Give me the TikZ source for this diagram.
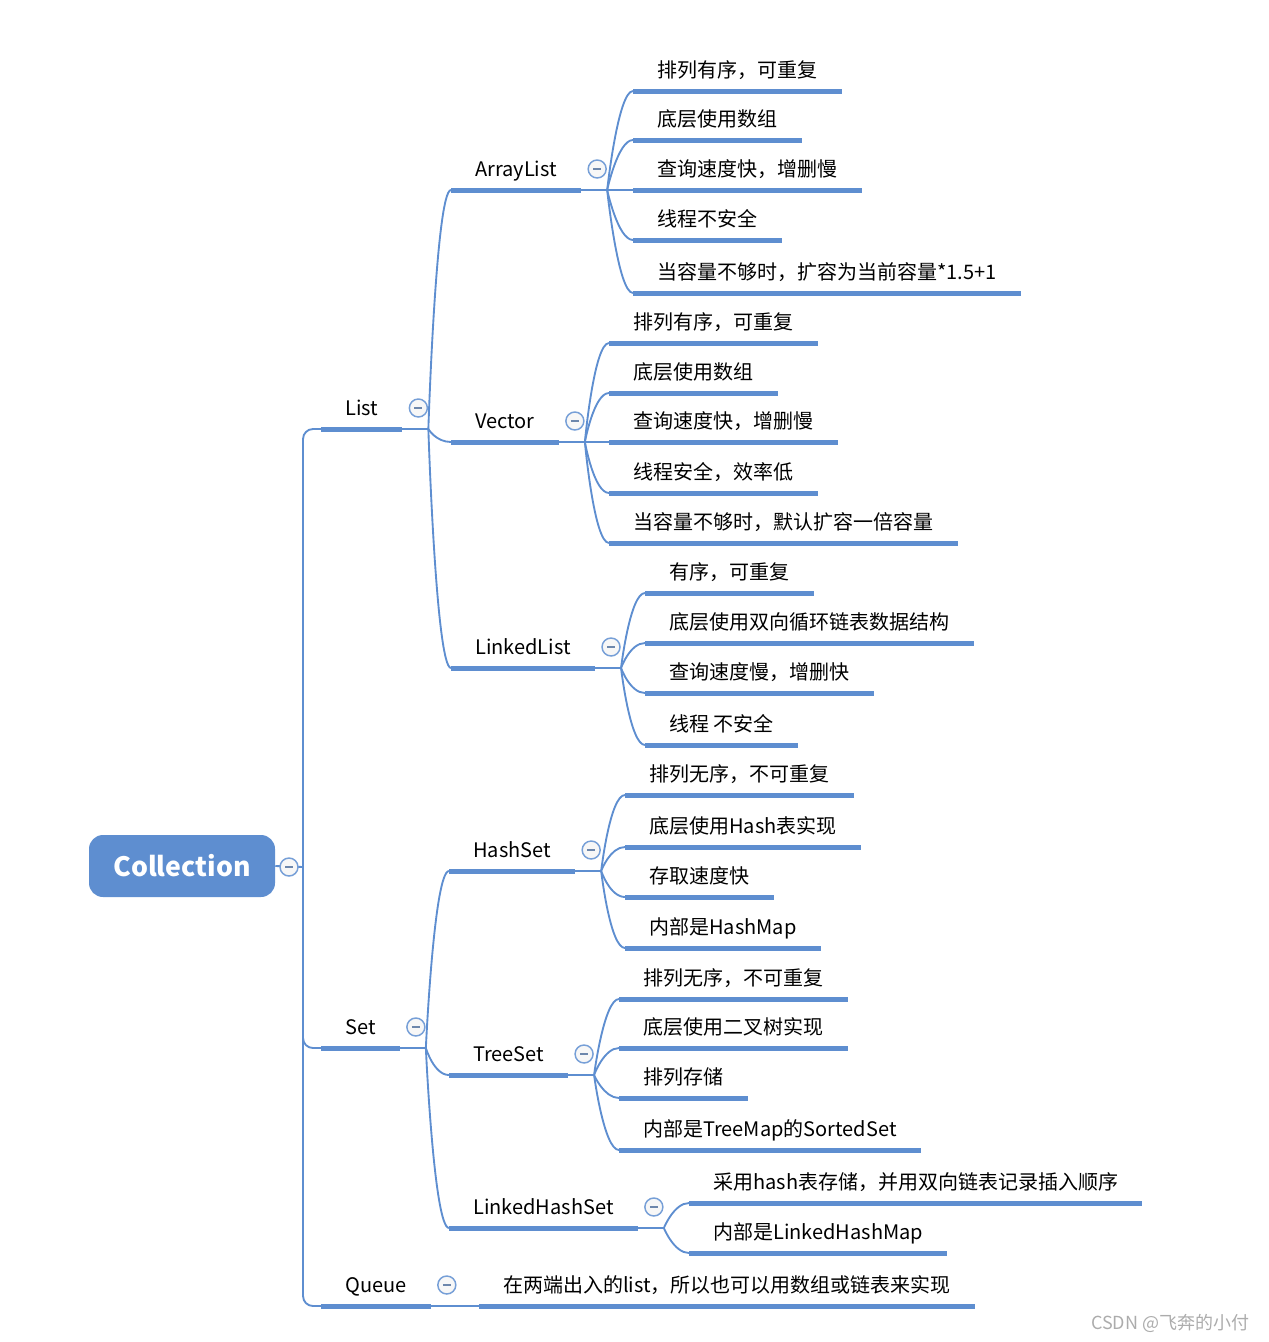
\documentclass[tikz,border=0pt]{standalone}
\usepackage{fontspec}
\setmainfont{Noto Sans CJK SC}
\definecolor{mapblue}{RGB}{94,142,208}

\tikzset{
  root/.style={rectangle, rounded corners=10.5pt, fill=mapblue, text=white,
    minimum width=139.5pt, minimum height=46.5pt, inner sep=0pt,
    font=\bfseries\fontsize{20}{24}\selectfont},
  topic/.style={anchor=south west, inner xsep=18pt, inner ysep=6.75pt,
    text height=11pt, text depth=3pt, font=\fontsize{15}{18}\selectfont},
  uline/.style={mapblue, line width=3.75pt},
  branch/.style={mapblue, line width=1.4pt},
  fold/.style={circle, draw=mapblue!85, fill=gray!6, line width=1.1pt,
    minimum size=13.5pt, inner sep=0pt,
    path picture={\draw[line width=1.5pt, mapblue!55!gray]
      ([xshift=-3pt]path picture bounding box.center) --
      ([xshift=3pt]path picture bounding box.center);}},
}

% a topic: text over a thick line
\newcommand\maptopic[4]{%
  \node[topic] (#1) at (#2,#3) {#4};
  \draw[uline] (#1.south west) -- (#1.south east);}
% the point where the children of a topic start, with its fold mark
\newcommand\maphub[1]{%
  \coordinate (j#1) at ([xshift=19.5pt]#1.south east);
  \draw[branch] (#1.south east) -- (j#1);
  \node[fold] (f#1) at ([xshift=-7.5pt,yshift=15.75pt]j#1) {};}
% curved connector from a hub to a child topic
\newcommand\maptwig[2]{%
  \draw[branch] (#1) .. controls (#1) and ([xshift=-11.25pt]#2.south west) .. (#2.south west);}

\begin{document}
\begin{tikzpicture}[x=0.75pt,y=-0.75pt]
\useasboundingbox (0,0) rectangle (1268,1342);

% root
\node[root] (col) at (182,866) {Collection};
\coordinate (jcol) at (303,867);
\draw[branch] (col.east) -- (jcol);

% first level
\foreach \n/\y/\t in {list/429/List, set/1048/Set, queue/1306/Queue} {
  \maptopic{\n}{321}{\y}{\t}
  \draw[branch, rounded corners=7.5pt] (jcol) |- (\n.south west);
  \maphub{\n}
}
\node[fold] (fcol) at (289,867) {};

% List
\foreach \n/\y/\t in {arraylist/190/ArrayList, vector/442/Vector, linkedlist/668/LinkedList} {
  \maptopic{\n}{451}{\y}{\t}
  \maptwig{jlist}{\n}
  \maphub{\n}
}
\foreach \n/\y/\t in {1/91/排列有序，可重复, 2/140/底层使用数组, 3/190/查询速度快，增删慢,
    4/240/线程不安全, 5/293/当容量不够时，扩容为当前容量*1.5+1} {
  \maptopic{al\n}{633}{\y}{\t}
  \maptwig{jarraylist}{al\n}
}
\foreach \n/\y/\t in {1/343/排列有序，可重复, 2/393/底层使用数组, 3/442/查询速度快，增删慢,
    4/493/线程安全，效率低, 5/543/当容量不够时，默认扩容一倍容量} {
  \maptopic{ve\n}{609}{\y}{\t}
  \maptwig{jvector}{ve\n}
}
\foreach \n/\y/\t in {1/593/有序，可重复, 2/643/底层使用双向循环链表数据结构,
    3/693/查询速度慢，增删快, 4/745/线程 不安全} {
  \maptopic{ll\n}{645}{\y}{\t}
  \maptwig{jlinkedlist}{ll\n}
}

% Set
\foreach \n/\y/\t in {hashset/871/HashSet, treeset/1075/TreeSet, linkedhashset/1228/LinkedHashSet} {
  \maptopic{\n}{449}{\y}{\t}
  \maptwig{jset}{\n}
  \maphub{\n}
}
\foreach \n/\y/\t in {1/795/排列无序，不可重复, 2/847/底层使用Hash表实现,
    3/897/存取速度快, 4/948/内部是HashMap} {
  \maptopic{hs\n}{625}{\y}{\t}
  \maptwig{jhashset}{hs\n}
}
\foreach \n/\y/\t in {1/999/排列无序，不可重复, 2/1048/底层使用二叉树实现,
    3/1098/排列存储, 4/1150/内部是TreeMap的SortedSet} {
  \maptopic{ts\n}{619}{\y}{\t}
  \maptwig{jtreeset}{ts\n}
}
\foreach \n/\y/\t in {1/1203/采用hash表存储，并用双向链表记录插入顺序, 2/1253/内部是LinkedHashMap} {
  \maptopic{lh\n}{689}{\y}{\t}
  \maptwig{jlinkedhashset}{lh\n}
}

% Queue
\maptopic{qu1}{479}{1306}{在两端出入的list，所以也可以用数组或链表来实现}
\maptwig{jqueue}{qu1}

\node[anchor=east, text=gray!65, font=\fontsize{13.5}{16}\selectfont] (mark) at (1254,1323) {CSDN @飞奔的小付};
\end{tikzpicture}
\end{document}
